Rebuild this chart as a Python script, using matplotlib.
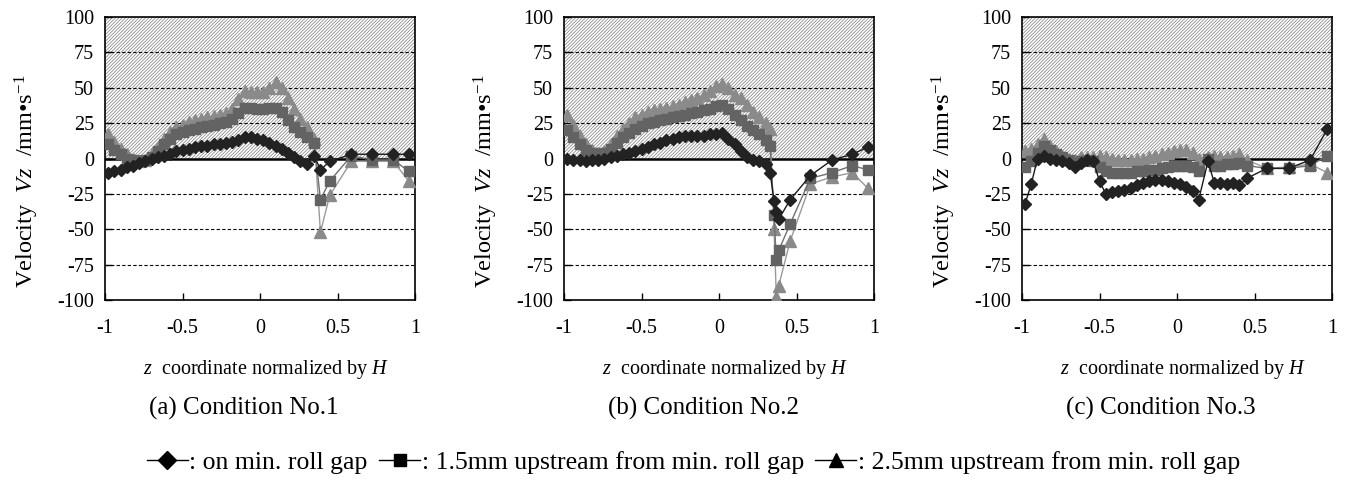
import matplotlib
matplotlib.use("Agg")
import matplotlib.pyplot as plt
from matplotlib.lines import Line2D

plt.rcParams['font.family'] = ['Liberation Serif', 'DejaVu Serif']
plt.rcParams['mathtext.fontset'] = 'custom'
plt.rcParams['mathtext.rm'] = 'Liberation Serif'
plt.rcParams['mathtext.it'] = 'Liberation Serif:italic'
plt.rcParams['axes.unicode_minus'] = False
plt.rcParams['hatch.linewidth'] = 0.5

# ---- Condition No.1 ----
z_a = [-0.98, -0.94, -0.90, -0.86, -0.82, -0.78, -0.74, -0.70, -0.66, -0.62,
       -0.58, -0.54, -0.50, -0.46, -0.42, -0.38, -0.34, -0.30, -0.26, -0.22,
       -0.18, -0.14, -0.10, -0.06, -0.02, 0.02, 0.06, 0.10, 0.14, 0.18,
       0.22, 0.26, 0.30, 0.35, 0.39, 0.45, 0.59, 0.72, 0.86, 0.96]
gap_a = [-10, -9, -8, -6, -5, -3, -2, 0, 1, 2,
         3, 5, 6, 7, 8, 9, 9, 10, 10, 11,
         12, 13, 15, 15, 14, 13, 11, 9, 7, 4,
         1, -2, -4, 2, -8, -2, 3, 3, 3, 3]
up15_a = [10, 6, 3, 0, -1, -2, -1, 1, 5, 10,
          14, 17, 19, 20, 21, 22, 23, 24, 25, 26,
          28, 32, 36, 36, 35, 35, 36, 36, 33, 27,
          22, 19, 15, 11, -29, -16, 2, -1, -1, -9]
up25_a = [17, 12, 7, 3, 0, -2, -1, 3, 8, 14,
          19, 22, 24, 26, 27, 28, 29, 30, 31, 32,
          35, 42, 48, 47, 47, 47, 50, 54, 50, 43,
          35, 28, 22, 14, -52, -26, -2, -2, -2, -16]

# ---- Condition No.2 ----
z_b = [-0.98, -0.94, -0.90, -0.86, -0.82, -0.78, -0.74, -0.70, -0.66, -0.62,
       -0.58, -0.54, -0.50, -0.46, -0.42, -0.38, -0.34, -0.30, -0.26, -0.22,
       -0.18, -0.14, -0.10, -0.06, -0.02, 0.02, 0.06, 0.10, 0.14, 0.18,
       0.22, 0.26, 0.30, 0.33, 0.355, 0.37, 0.385, 0.46, 0.59, 0.73, 0.86, 0.96]
gap_b = [0, -1, -1, -2, -1, -1, 0, 1, 2, 3,
         4, 5, 7, 8, 10, 11, 13, 14, 15, 16,
         16, 16, 16, 17, 17, 18, 14, 10, 5, 1,
         -1, -2, -4, -10, -30, -38, -43, -29, -12, -1, 3, 8]
up15_b = [20, 15, 10, 6, 4, 3, 4, 7, 11, 15,
          18, 21, 23, 25, 26, 27, 28, 29, 30, 31,
          32, 33, 34, 35, 37, 38, 35, 31, 27, 23,
          20, 17, 13, 9, -40, -72, -65, -46, -14, -10, -5, -8]
up25_b = [31, 24, 16, 10, 6, 4, 5, 10, 16, 21,
          25, 29, 31, 33, 34, 35, 36, 37, 38, 40,
          41, 43, 45, 48, 51, 53, 50, 45, 43, 38,
          33, 29, 25, 21, -50, -98, -90, -58, -18, -13, -10, -21]

# ---- Condition No.3 ----
z_c = [-0.98, -0.94, -0.90, -0.86, -0.82, -0.78, -0.74, -0.70, -0.66, -0.62,
       -0.58, -0.54, -0.50, -0.46, -0.42, -0.38, -0.34, -0.30, -0.26, -0.22,
       -0.18, -0.14, -0.10, -0.06, -0.02, 0.02, 0.06, 0.10, 0.14, 0.20,
       0.24, 0.28, 0.32, 0.36, 0.40, 0.45, 0.58, 0.72, 0.86, 0.97]
gap_c = [-32, -18, 0, 2, 0, -1, -2, -3, -6, -3,
         -1, -2, -16, -25, -24, -23, -22, -21, -19, -17,
         -16, -15, -15, -16, -17, -18, -20, -23, -29, -2,
         -17, -17, -18, -17, -19, -14, -7, -7, -1, 21]
up15_c = [-6, -2, 4, 9, 6, 3, 1, -1, -3, -2,
          -1, -2, -6, -9, -10, -10, -10, -10, -9, -9,
          -8, -8, -7, -6, -5, -5, -5, -6, -9, 0,
          -5, -5, -4, -4, -3, -5, -7, -7, -5, 2]
up25_c = [5, 7, 10, 14, 9, 5, 2, 0, -1, 1,
          1, 1, 2, 1, 0, -1, -1, -1, 0, 0,
          1, 2, 3, 4, 5, 6, 6, 4, 0, 1,
          2, 1, 1, 2, 3, -1, -7, -6, -4, -10]

panels = [
    ("(a) Condition No.1", z_a, gap_a, up15_a, up25_a),
    ("(b) Condition No.2", z_b, gap_b, up15_b, up25_b),
    ("(c) Condition No.3", z_c, gap_c, up15_c, up25_c),
]
ax_left = [105 / 1349, 564 / 1349, 1022 / 1349]

yticks = [-100, -75, -50, -25, 0, 25, 50, 75, 100]
xticks = [-1, -0.5, 0, 0.5, 1]
xticklabels = ["-1", "-0.5", "0", "0.5", "1"]

fs = 14.5
fig = plt.figure(figsize=(13.49, 4.88), dpi=100)

for left, (title, z, g, s15, s25) in zip(ax_left, panels):
    ax = fig.add_axes([left, 1 - 300 / 488, 310 / 1349, 283 / 488])
    # hatched band for positive velocity
    ax.axhspan(0, 100, facecolor='white', edgecolor='#7a7a7a',
               hatch='//////////', linewidth=0, zorder=0)
    for yv in [-75, -50, -25, 25, 50, 75]:
        ax.axhline(yv, color='black', lw=0.8, ls=(0, (3, 2)), zorder=1)
    ax.axhline(0, color='black', lw=1.8, zorder=1)

    # triangles under squares under diamonds
    ax.plot(z, s25, color='#9a9a9a', lw=1, marker='^', ms=9,
            mfc='#8a8a8a', mec='#8a8a8a', zorder=3)
    ax.plot(z, s15, color='#707070', lw=1, marker='s', ms=7.5,
            mfc='#636363', mec='#636363', zorder=4)
    ax.plot(z, g, color='#1a1a1a', lw=1, marker='D', ms=6.5,
            mfc='#222222', mec='#222222', zorder=5)

    ax.set_xlim(-1, 1)
    ax.set_ylim(-100, 100)
    ax.set_xticks(xticks)
    ax.set_xticklabels(xticklabels)
    ax.set_yticks(yticks)
    ax.tick_params(direction='in', length=5, width=1, labelsize=fs)
    ax.tick_params(axis='x', pad=14)
    ax.tick_params(axis='y', pad=8)
    for sp in ax.spines.values():
        sp.set_linewidth(1.2)

    ax.set_xlabel('$z$  coordinate normalized by $H$', fontsize=fs)
    ax.xaxis.set_label_coords(0.52, -0.205)
    ax.set_ylabel('Velocity  $Vz$  /mm•s$^{-1}$', fontsize=17.5)
    ax.yaxis.set_label_coords(-0.208, 0.42)

    fig.text(left + 139 / 1349, 1 - 408 / 488, title, ha='center', va='center',
             fontsize=18)

handles = [
    Line2D([], [], color='black', lw=1, marker='D', ms=9),
    Line2D([], [], color='black', lw=1, marker='s', ms=9),
    Line2D([], [], color='black', lw=1, marker='^', ms=10),
]
labels = [': on min. roll gap',
          ': 1.5mm upstream from min. roll gap',
          ': 2.5mm upstream from min. roll gap']
fig.legend(handles, labels, loc='center', bbox_to_anchor=(0.514, 0.052),
           ncol=3, frameon=False, fontsize=18.5, handlelength=1.6,
           handletextpad=0.05, columnspacing=0.45)

fig.savefig('out.png', dpi=100)
